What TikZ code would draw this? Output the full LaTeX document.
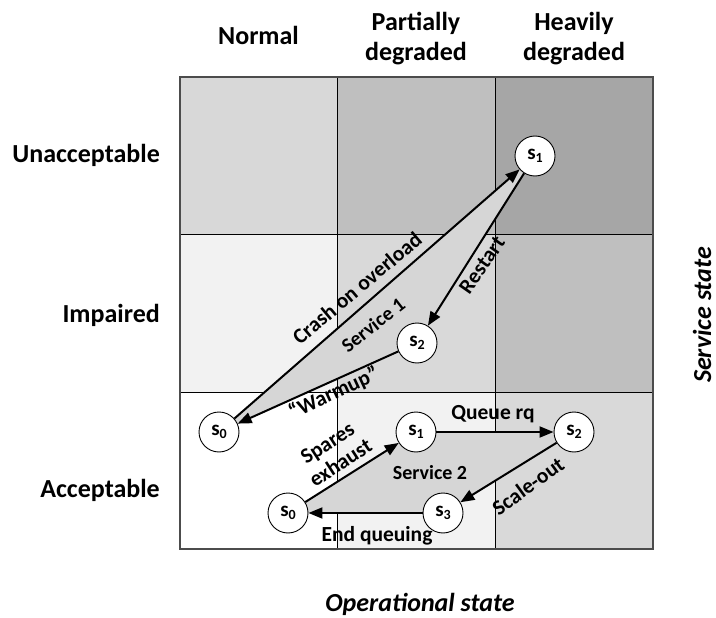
\documentclass[tikz,border=0pt]{standalone}
\usepackage{fontspec}
\setmainfont{Carlito}
\usetikzlibrary{arrows.meta}
\definecolor{gA}{HTML}{D8D8D8}
\definecolor{gB}{HTML}{BFBFBF}
\definecolor{gC}{HTML}{A6A6A6}
\definecolor{gD}{HTML}{F2F2F2}
\definecolor{gE}{HTML}{D9D9D9}
\definecolor{svcfill}{HTML}{D6D6D6}
\newcommand{\stname}[1]{s\raisebox{-0.3ex}{\fontsize{14}{14}\selectfont #1}}

\begin{document}
\begin{tikzpicture}[x=1pt,y=-1pt,
  state/.style={circle, draw, line width=0.9pt, fill=white, minimum size=40pt,
    inner sep=0pt, font=\fontsize{21}{21}\selectfont\bfseries},
  trans/.style={line width=2pt, -{Triangle[length=14pt,width=11pt]}},
  lbl/.style={font=\fontsize{21.5}{24}\selectfont\bfseries, inner sep=0pt, align=center},
  svc/.style={font=\fontsize{20}{20}\selectfont\bfseries, inner sep=0pt},
  head/.style={font=\fontsize{26}{30}\selectfont\bfseries, inner sep=0pt, align=center},
  axis/.style={font=\fontsize{26}{30}\selectfont\bfseries\itshape, inner sep=0pt}]
\useasboundingbox (0,0) rectangle (716,618);

% shaded grid: operational state (columns) x service state (rows)
\fill[gA] (180,77) rectangle (337,234);
\fill[gB] (337,77) rectangle (495,234);
\fill[gC] (495,77) rectangle (653,234);
\fill[gD] (180,234) rectangle (337,392);
\fill[gE] (337,234) rectangle (495,392);
\fill[gB] (495,234) rectangle (653,392);
\fill[white] (180,392) rectangle (337,549);
\fill[gD] (337,392) rectangle (495,549);
\fill[gE] (495,392) rectangle (653,549);
\draw[line width=0.8pt] (337,77) -- (337,549) (495,77) -- (495,549)
  (180,234) -- (653,234) (180,392) -- (653,392);
\draw[line width=1.3pt, black!70] (180,77) rectangle (653,549);

% state positions
\coordinate (pa0) at (219,432);
\coordinate (pa1) at (535,156);
\coordinate (pa2) at (417,343);
\coordinate (pb0) at (288,513);
\coordinate (pb1) at (416,432);
\coordinate (pb2) at (574,432);
\coordinate (pb3) at (443,513);

% service cycles
\fill[svcfill] (pa0) -- (pa1) -- (pa2) -- cycle;
\fill[svcfill] (pb0) -- (pb1) -- (pb2) -- (pb3) -- cycle;

% states
\node[state] (a0) at (pa0) {\stname{0}};
\node[state] (a1) at (pa1) {\stname{1}};
\node[state] (a2) at (pa2) {\stname{2}};
\node[state] (b0) at (pb0) {\stname{0}};
\node[state] (b1) at (pb1) {\stname{1}};
\node[state] (b2) at (pb2) {\stname{2}};
\node[state] (b3) at (pb3) {\stname{3}};

% transitions
\draw[trans] (a0) -- (a1);
\draw[trans] (a1) -- (a2);
\draw[trans] (a2) -- (a0);
\draw[trans] (b0) -- (b1);
\draw[trans] (b1) -- (b2);
\draw[trans] (b2) -- (b3);
\draw[trans] (b3) -- (b0);

% transition labels
\node[lbl, rotate=40] (lcrash) at (357,288) {Crash on overload};
\node[lbl, rotate=55] (lrestart) at (482,265) {Restart};
\node[lbl, rotate=25] (lwarm) at (334,393) {“Warmup”};
\node[svc, rotate=38] (lsvc1) at (373,325) {Service 1};
\node[lbl, rotate=33] (lspares) at (334,453) {Spares\\exhaust};
\node[lbl] (lqueue) at (493,414) {Queue rq};
\node[lbl, rotate=36] (lscale) at (528,486) {Scale-out};
\node[lbl] (lend) at (377,536) {End queuing};
\node[svc] (lsvc2) at (430,473) {Service 2};

% row and column headings
\node[head, anchor=base east] (runacc) at (160,163) {Unacceptable};
\node[head, anchor=base east] (rimp) at (160,322) {Impaired};
\node[head, anchor=base east] (racc) at (160,497) {Acceptable};
\node[head, anchor=base] (cnorm) at (258.5,45) {Normal};
\node[head] (cpart) at (416,38.5) {Partially\\degraded};
\node[head] (cheavy) at (574,38.5) {Heavily\\degraded};

% axis titles
\node[axis, anchor=base] (xaxis) at (420,611) {Operational state};
\node[axis, anchor=base, rotate=90] (yaxis) at (711,315) {Service state};
\end{tikzpicture}
\end{document}
